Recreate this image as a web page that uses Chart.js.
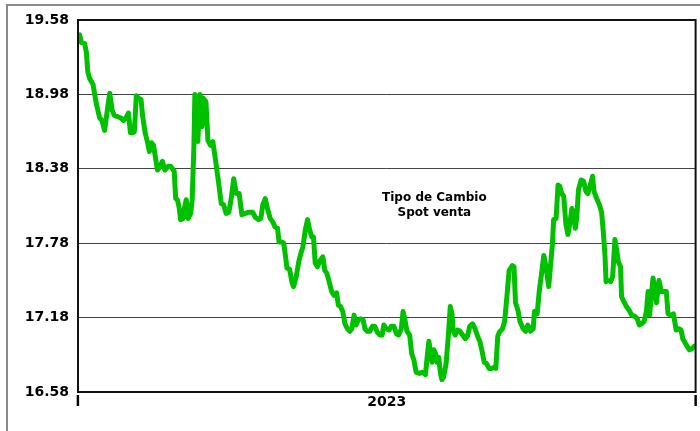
<!DOCTYPE html>
<html>
<head>
<meta charset="utf-8">
<script src="https://cdn.jsdelivr.net/npm/chart.js@4/dist/chart.umd.min.js"></script>
<style>
  html, body { margin: 0; padding: 0; background: #ffffff; }
  #wrap { width: 700px; height: 431px; position: relative; }
</style>
</head>
<body>
<div id="wrap"><canvas id="c" width="700" height="431"></canvas></div>
<script>
const xTickLabels = ['l', '2023', 'l'];
const xTickPos = [0, 125.5, 251];
const yTicks = [16.58, 17.18, 17.78, 18.38, 18.98, 19.58];
const seriesTitle = ['Tipo de Cambio', 'Spot venta'];

const days = [0.7,1.3,2.7,3.4,4.0,4.7,6.1,7.4,8.8,9.7,
10.8,12.1,12.9,13.9,14.8,16.2,17.5,18.5,19.5,20.5,
21.3,22.2,22.9,23.7,24.6,25.6,26.3,27.3,28.3,29.0,
29.9,30.7,31.4,32.3,33.4,34.3,35.3,36.6,37.7,39.1,
39.7,40.4,41.1,41.7,42.8,43.3,44.0,44.8,45.8,46.4,
47.1,47.5,48.2,48.7,49.6,50.4,50.9,52.0,52.8,53.8,
54.8,55.9,57.2,58.2,59.2,60.2,61.3,62.2,63.3,64.3,
65.5,66.6,68.0,69.3,71.0,72.0,73.4,74.3,75.1,76.1,
77.0,78.1,79.2,80.1,81.1,81.7,82.8,83.6,84.3,84.9,
86.0,87.0,87.6,88.7,89.7,90.6,91.4,92.4,93.3,94.1,
95.0,95.7,96.4,97.3,98.4,99.5,100.3,101.1,102.2,103.1,
104.1,105.1,105.8,106.7,107.6,108.5,109.5,110.5,111.3,112.2,
113.0,113.9,114.8,115.9,116.6,117.5,118.6,119.7,120.6,121.7,
122.7,123.6,124.3,125.3,126.4,127.3,128.4,129.4,130.3,131.4,
132.1,132.8,133.7,134.8,135.6,136.5,137.4,138.8,140.1,141.2,
141.9,142.6,143.3,143.9,144.6,145.3,145.9,146.6,147.3,147.9,
148.6,149.6,150.5,151.3,152.0,152.5,153.3,154.3,155.2,156.3,
157.4,158.3,159.2,160.3,161.4,162.4,163.3,164.1,165.1,166.0,
167.1,168.1,169.2,169.8,170.6,171.2,172.5,173.4,174.5,175.2,
176.5,177.2,177.8,178.8,179.6,180.9,181.9,182.8,183.9,185.0,
185.5,186.6,187.5,188.3,189.3,190.2,191.3,192.0,192.8,193.3,
194.3,195.1,195.8,196.6,197.4,198.3,199.1,200.0,200.7,201.4,
202.1,202.7,203.4,204.5,205.5,206.4,207.2,208.1,209.1,209.7,
210.8,211.9,212.8,213.5,214.2,214.6,215.5,216.5,217.3,218.2,
218.9,219.6,220.5,220.9,221.8,222.9,224.0,225.0,226.3,227.3,
228.1,229.0,230.1,231.0,231.7,232.3,233.7,235.1,236.1,237.1,
238.3,239.1,239.8,241.1,242.0,243.1,244.2,245.1,245.8,247.2,
248.5,249.6,250.5];

const values = [19.46,19.40,19.39,19.32,19.16,19.11,19.06,18.91,18.79,18.77,
18.69,18.88,18.99,18.85,18.81,18.80,18.79,18.77,18.79,18.83,
18.67,18.67,18.68,18.97,18.95,18.94,18.80,18.67,18.59,18.52,
18.59,18.57,18.48,18.37,18.40,18.44,18.37,18.40,18.40,18.36,
18.14,18.13,18.07,17.97,17.98,18.07,18.13,17.98,18.02,18.13,
18.56,18.98,18.96,18.60,18.98,18.72,18.95,18.92,18.61,18.57,
18.60,18.45,18.26,18.10,18.09,18.02,18.03,18.13,18.30,18.18,
18.18,18.01,18.02,18.03,18.03,17.99,17.97,17.98,18.09,18.14,
18.06,17.98,17.95,17.91,17.90,17.79,17.79,17.78,17.68,17.58,
17.57,17.46,17.43,17.51,17.63,17.70,17.75,17.89,17.97,17.89,
17.83,17.83,17.62,17.59,17.64,17.67,17.56,17.54,17.46,17.39,
17.36,17.38,17.28,17.27,17.23,17.13,17.09,17.07,17.09,17.20,
17.12,17.16,17.17,17.16,17.09,17.07,17.07,17.11,17.11,17.06,
17.04,17.04,17.12,17.09,17.08,17.11,17.11,17.05,17.04,17.09,
17.23,17.17,17.07,17.04,16.89,16.84,16.74,16.73,16.74,16.72,
16.86,16.99,16.89,16.82,16.92,16.89,16.82,16.86,16.73,16.68,
16.70,16.81,17.03,17.27,17.21,17.07,17.04,17.08,17.07,17.04,
17.01,17.03,17.11,17.13,17.09,17.03,16.99,16.92,16.82,16.81,
16.77,16.77,16.78,16.77,17.03,17.06,17.09,17.15,17.39,17.56,
17.60,17.59,17.30,17.24,17.15,17.09,17.07,17.12,17.07,17.09,
17.23,17.21,17.40,17.52,17.68,17.59,17.43,17.59,17.77,17.97,
17.98,18.25,18.24,18.18,18.16,17.93,17.85,17.95,18.06,18.02,
17.90,17.99,18.21,18.29,18.28,18.20,18.18,18.24,18.32,18.20,
18.14,18.09,18.03,17.87,17.67,17.47,17.48,17.47,17.51,17.81,
17.73,17.63,17.59,17.35,17.31,17.27,17.24,17.20,17.19,17.17,
17.12,17.13,17.15,17.23,17.39,17.20,17.50,17.30,17.48,17.39,
17.39,17.39,17.21,17.20,17.21,17.08,17.09,17.08,17.01,16.96,
16.92,16.93,16.95];

const n = Math.min(days.length, values.length);
const points = [];
for (let i = 0; i < n; i++) points.push({ x: days[i], y: values[i] });

const FONT = "'DejaVu Sans', 'Liberation Sans', Arial, sans-serif";

const framePlugin = {
  id: 'frame',
  beforeDraw(chart) {
    const ctx = chart.ctx;
    ctx.save();
    ctx.fillStyle = '#ffffff';
    ctx.fillRect(0, 0, chart.width, chart.height);
    ctx.strokeStyle = '#8a8a8a';
    ctx.lineWidth = 2;
    ctx.strokeRect(7, 5, 900, 900);
    ctx.restore();
  },
  afterDraw(chart) {
    const ctx = chart.ctx;
    const a = chart.chartArea;
    ctx.save();
    ctx.strokeStyle = '#111111';
    ctx.lineWidth = 2;
    ctx.strokeRect(a.left, a.top, a.right - a.left, a.bottom - a.top);
    // title text inside the plot
    ctx.fillStyle = '#000000';
    ctx.font = "bold 12px " + FONT;
    ctx.textAlign = 'center';
    ctx.textBaseline = 'middle';
    const cx = a.left + (a.right - a.left) * 0.577;
    const cy = a.top + (a.bottom - a.top) * 0.478;
    ctx.fillText(seriesTitle[0], cx, cy);
    ctx.fillText(seriesTitle[1], cx, cy + 15);
    ctx.restore();
  }
};

new Chart(document.getElementById('c'), {
  type: 'line',
  data: {
    datasets: [{
      data: points,
      borderColor: '#00c000',
      borderWidth: 5,
      pointRadius: 0,
      pointHoverRadius: 0,
      tension: 0,
      fill: false,
      borderJoinStyle: 'round',
      borderCapStyle: 'round'
    }]
  },
  options: {
    responsive: false,
    animation: false,
    events: [],
    layout: { padding: { top: 20, right: 1, left: 0, bottom: 0 } },
    plugins: { legend: { display: false }, tooltip: { enabled: false }, title: { display: false } },
    scales: {
      x: {
        type: 'linear',
        min: xTickPos[0],
        max: xTickPos[xTickPos.length - 1],
        afterBuildTicks(scale) {
          scale.ticks = xTickPos.map(v => ({ value: v }));
        },
        afterFit(scale) { scale.height = 39; },
        ticks: {
          autoSkip: false,
          maxRotation: 0,
          padding: 2,
          color: '#000000',
          font: { family: FONT, size: 14, weight: 'bold' },
          callback(value, index) { return xTickLabels[index]; }
        },
        grid: { display: false, drawTicks: false },
        border: { display: false }
      },
      y: {
        type: 'linear',
        min: yTicks[0],
        max: yTicks[yTicks.length - 1],
        afterBuildTicks(scale) {
          scale.ticks = yTicks.map(v => ({ value: v }));
        },
        afterFit(scale) { scale.width = 78; },
        ticks: {
          autoSkip: false,
          padding: 9,
          color: '#000000',
          font: { family: FONT, size: 14, weight: 'bold' },
          callback(value, index) { return yTicks[index].toFixed(2); }
        },
        grid: { color: '#444444', lineWidth: 1, drawTicks: false },
        border: { display: false }
      }
    }
  },
  plugins: [framePlugin]
});
</script>
</body>
</html>
